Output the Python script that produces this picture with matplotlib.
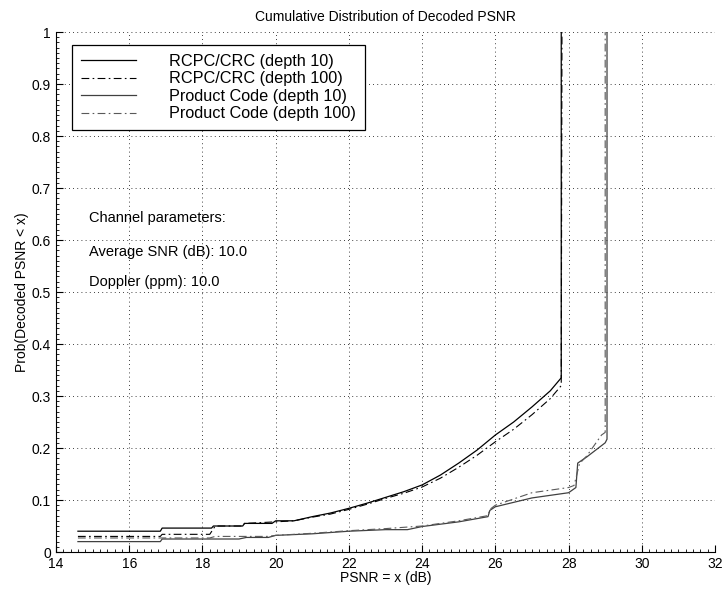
import numpy as np
import matplotlib
matplotlib.use('Agg')
import matplotlib.pyplot as plt
from matplotlib.ticker import MultipleLocator, FuncFormatter

plt.rcParams['font.family'] = ['Liberation Sans', 'DejaVu Sans']

# RCPC/CRC, interleaver depth 10
rcpc10_x = [14.6, 16.85, 16.9, 18.25, 18.3, 19.1, 19.15, 19.9, 20.0, 20.5, 21.0, 21.5, 22.0, 22.5,
            23.0, 23.5, 24.0, 24.5, 25.0, 25.5, 26.0, 26.5, 27.0, 27.5, 27.8, 27.8]
rcpc10_y = [0.040, 0.040, 0.046, 0.046, 0.050, 0.050, 0.055, 0.055, 0.060, 0.060, 0.068, 0.075, 0.084, 0.094,
            0.105, 0.116, 0.129, 0.148, 0.171, 0.196, 0.225, 0.250, 0.279, 0.310, 0.335, 1.0]

# RCPC/CRC, interleaver depth 100
rcpc100_x = [14.6, 16.85, 16.9, 18.2, 18.35, 19.1, 19.15, 20.0, 20.5, 21.0, 21.5, 22.0, 22.5,
             23.0, 23.5, 24.0, 24.5, 25.0, 25.5, 26.0, 26.5, 27.0, 27.5, 27.8, 27.82]
rcpc100_y = [0.030, 0.030, 0.034, 0.034, 0.050, 0.050, 0.055, 0.058, 0.060, 0.067, 0.073, 0.082, 0.092,
             0.103, 0.113, 0.125, 0.142, 0.163, 0.186, 0.212, 0.236, 0.264, 0.295, 0.320, 1.0]

# Product code, depth 10
pc10_x = [14.6, 16.85, 16.9, 19.0, 19.2, 19.8, 20.0, 21.0, 22.0, 23.0, 23.6, 24.0, 25.0, 25.8, 25.85,
          26.0, 27.0, 28.0, 28.2, 28.25, 28.5, 29.0, 29.05, 29.05]
pc10_y = [0.020, 0.020, 0.025, 0.025, 0.028, 0.028, 0.032, 0.035, 0.040, 0.043, 0.043, 0.049, 0.058, 0.068, 0.080,
          0.087, 0.104, 0.114, 0.124, 0.171, 0.183, 0.210, 0.217, 1.0]

# Product code, depth 100
pc100_x = [14.6, 18.2, 18.35, 19.8, 20.0, 21.0, 22.0, 23.0, 24.0, 25.0, 25.8, 25.85,
           26.0, 27.0, 28.0, 28.15, 28.3, 28.5, 28.9, 29.0, 29.0]
pc100_y = [0.027, 0.027, 0.030, 0.030, 0.032, 0.036, 0.041, 0.045, 0.050, 0.060, 0.070, 0.082,
           0.090, 0.114, 0.124, 0.128, 0.170, 0.185, 0.225, 0.230, 1.0]

labels = ['RCPC/CRC (depth 10)', 'RCPC/CRC (depth 100)',
          'Product Code (depth 10)', 'Product Code (depth 100)']
notes = ['Channel parameters:', 'Average SNR (dB): 10.0', 'Doppler (ppm): 10.0']

fig = plt.figure(figsize=(7.24, 5.94), dpi=100)
ax = fig.add_axes([0.0773, 0.0707, 0.9103, 0.8753])

ax.plot(rcpc10_x, rcpc10_y, color='black', lw=0.9, ls='-', label=labels[0])
ax.plot(rcpc100_x, rcpc100_y, color='black', lw=0.8, ls=(0, (7, 3, 1.5, 3)), label=labels[1])
ax.plot(pc10_x, pc10_y, color='0.25', lw=0.9, ls='-', label=labels[2])
ax.plot(pc100_x, pc100_y, color='0.35', lw=0.8, ls=(0, (7, 3, 1.5, 3)), label=labels[3])

ax.set_xlim(14, 32)
ax.set_ylim(0, 1)
ax.xaxis.set_major_locator(MultipleLocator(2))
ax.yaxis.set_major_locator(MultipleLocator(0.1))
ax.xaxis.set_minor_locator(MultipleLocator(0.2))
ax.yaxis.set_minor_locator(MultipleLocator(0.01))
ax.yaxis.set_major_formatter(FuncFormatter(lambda v, p: '%g' % round(v, 2)))
ax.tick_params(which='both', direction='in', labelsize=10, color='black')
ax.tick_params(which='major', length=5)
ax.tick_params(which='minor', length=2)
for s in ['top', 'right']:
    ax.spines[s].set_visible(False)
ax.grid(True, which='major', ls=(0, (1, 4)), color='black', lw=0.6)

ax.set_title('Cumulative Distribution of Decoded PSNR', fontsize=10, pad=8)
ax.set_xlabel('PSNR = x (dB)', fontsize=10, labelpad=0)
ax.set_ylabel('Prob(Decoded PSNR < x)', fontsize=10, labelpad=2)

for txt, yy in zip(notes, [0.642, 0.577, 0.519]):
    ax.text(14.9, yy, txt, fontsize=10.5, va='center', ha='left')

leg = ax.legend(loc='upper left', bbox_to_anchor=(0.024, 0.975), borderaxespad=0,
                fontsize=11.7, handlelength=3.4, handletextpad=2.05, labelspacing=0.15,
                borderpad=0.55, fancybox=False, framealpha=1, edgecolor='black')
leg.get_frame().set_linewidth(0.9)

fig.savefig('out.png', dpi=100, facecolor='white')
